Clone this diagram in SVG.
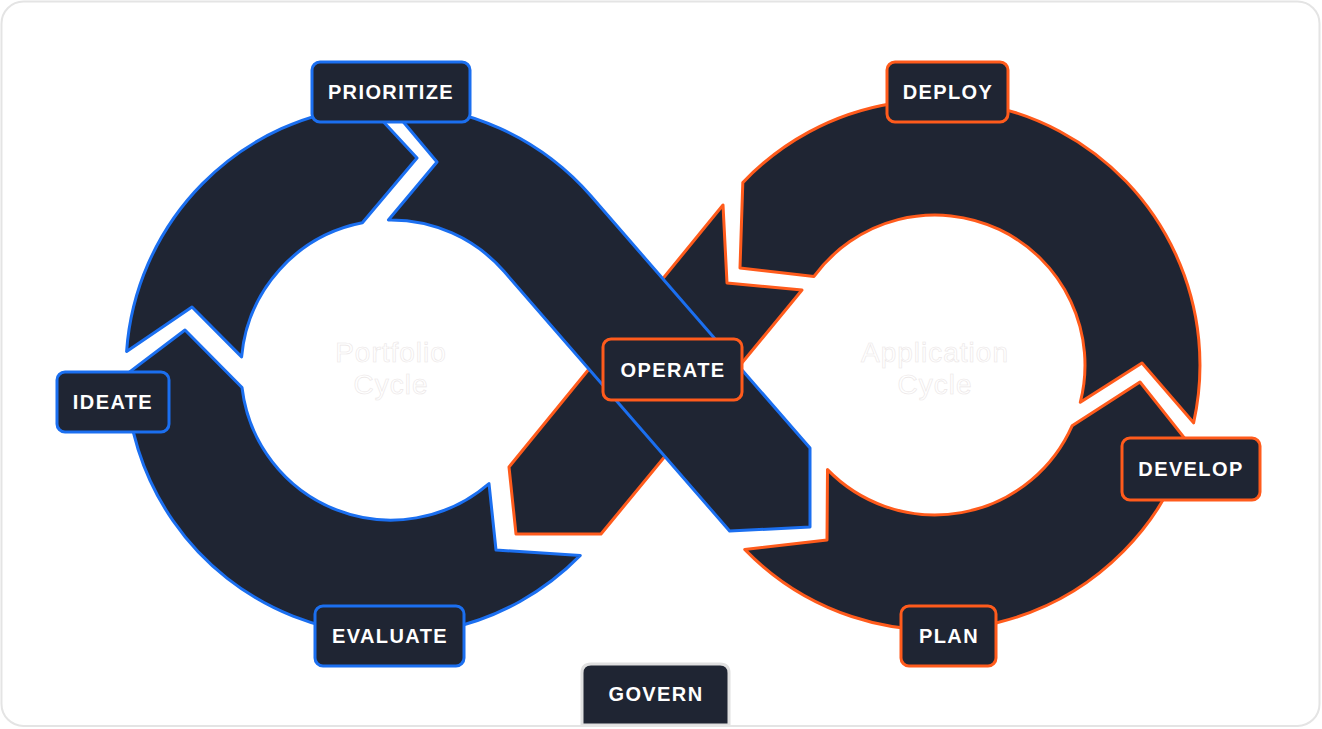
<svg xmlns="http://www.w3.org/2000/svg" width="1322" height="729" viewBox="0 0 1322 729">
<style>
.seg{fill:#1f2533;stroke-width:3;stroke-linejoin:round}
.b{stroke:#1b6ff0}
.o{stroke:#ff5b1c}
.box{fill:#1f2533;stroke-width:3}
.lbl{font-family:"Liberation Sans",Arial,sans-serif;font-weight:bold;font-size:20px;letter-spacing:1.4px;fill:#ffffff;text-anchor:middle}
.ctr{font-family:"Liberation Sans",Arial,sans-serif;font-size:28px;letter-spacing:1px;fill:#ffffff;stroke:#ebe6e6;stroke-width:0.6;text-anchor:middle}
</style>
<rect x="1.5" y="1.5" width="1318" height="724.5" rx="22" fill="#ffffff" stroke="#e4e4e4" stroke-width="2"/>
<g id="connectors">
<path id="seg-ideate" class="seg b" d="M126.6,351.5 A265,265 0 0,1 368.8,105.9 L417,158 L362.4,222.8 A150,150 0 0,0 241.6,356.9 L192,307 Z"/>
<path id="seg-evaluate" class="seg b" d="M580.3,555.4 A265,265 0 0,1 126,374.6 L185,330 L242,387.5 A150,150 0 0,0 489,483.6 L496,550 Z"/>
<path id="seg-plan" class="seg o" d="M744.7,549.4 A265,265 0 0,0 1188.3,442.9 L1140,382 L1072.1,425.8 A150,150 0 0,1 827.5,469.6 L827,540 Z"/>
<path id="seg-deploy" class="seg o" d="M1193.6,422.8 A265,265 0 0,0 742.8,182.6 L740,268 L814,276.4 A150,150 0 0,1 1080.3,402.3 L1142,363 Z"/>
<path id="seg-orange-band" class="seg o" d="M723,205 L727,283 L802,290 L601,534 L516,534 L509,467 Z"/>
<path id="seg-blue-band" class="seg b" d="M389.1,105 A265,265 0 0,1 591,196.1 L810,448.1 L810,527 L729.6,531 L504.2,271.6 A150,150 0 0,0 388.4,220 L437,162 Z"/>
</g>
<g id="portfolio-cycle">
<text class="ctr" x="391" y="362">Portfolio</text>
<text class="ctr" x="391" y="394">Cycle</text>
</g>
<g id="application-cycle">
<text class="ctr" x="935" y="362">Application</text>
<text class="ctr" x="935" y="394">Cycle</text>
</g>
<g id="prioritize"><rect class="box b" x="312" y="62" width="158" height="60" rx="8"/><text class="lbl" x="391" y="99">PRIORITIZE</text></g>
<g id="deploy"><rect class="box o" x="887" y="62" width="121" height="60" rx="8"/><text class="lbl" x="948" y="99">DEPLOY</text></g>
<g id="ideate"><rect class="box b" x="57" y="372" width="112" height="60" rx="8"/><text class="lbl" x="113" y="409">IDEATE</text></g>
<g id="operate"><rect class="box o" x="603" y="339" width="139" height="61" rx="8"/><text class="lbl" x="673" y="377">OPERATE</text></g>
<g id="develop"><rect class="box o" x="1122" y="438" width="138" height="62" rx="8"/><text class="lbl" x="1191" y="476">DEVELOP</text></g>
<g id="evaluate"><rect class="box b" x="315" y="606" width="149" height="60" rx="8"/><text class="lbl" x="390" y="643">EVALUATE</text></g>
<g id="plan"><rect class="box o" x="901" y="606" width="95" height="60" rx="8"/><text class="lbl" x="949" y="643">PLAN</text></g>
<g id="govern"><path d="M582,725 L582,673 Q582,664 591,664 L720,664 Q729,664 729,673 L729,725 Z" fill="#1f2533" stroke="#e0e0e0" stroke-width="3"/><text class="lbl" x="656" y="701">GOVERN</text></g>
<line x1="560" y1="726" x2="760" y2="726" stroke="#e4e4e4" stroke-width="2"/>
</svg>
